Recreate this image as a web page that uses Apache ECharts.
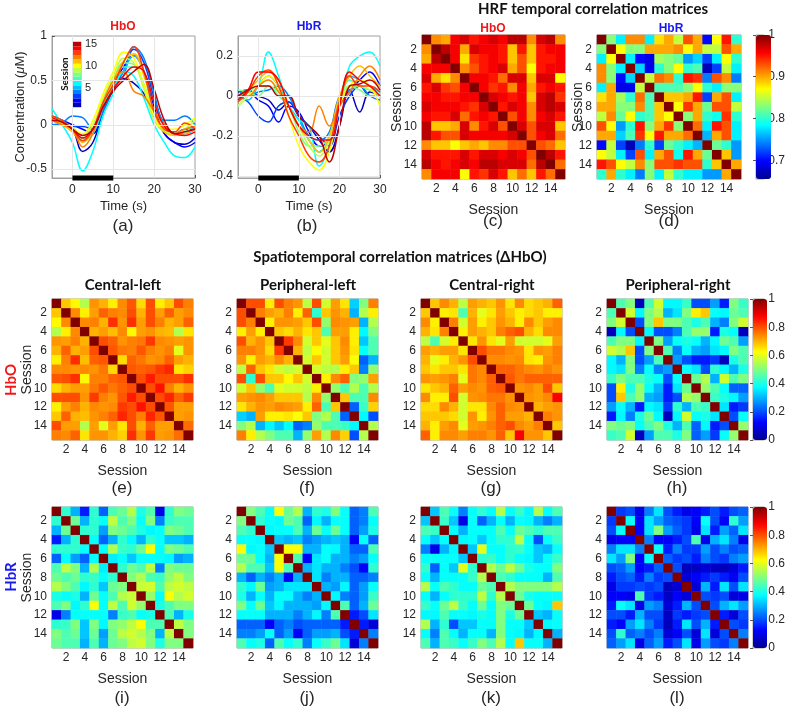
<!DOCTYPE html>
<html>
<head>
<meta charset="utf-8">
<script src="https://cdn.jsdelivr.net/npm/echarts@6/dist/echarts.min.js"></script>
<style>
  html, body { margin: 0; padding: 0; background: #fff; }
  #main { width: 788px; height: 707px; }
</style>
</head>
<body>
<div id="main"></div>
<script>
var sessions = ['1', '2', '3', '4', '5', '6', '7', '8', '9', '10', '11', '12', '13', '14', '15'];
var sessionColors = ['#0000BF', '#0000FF', '#0040FF', '#0080FF', '#00BFFF', '#00FFFF', '#40FFBF', '#80FF80',
    '#BFFF40', '#FFFF00', '#FFBF00', '#FF8000', '#FF4000', '#FF0000', '#BF0000'];
var jetColors = ['#00008F', '#0000FF', '#0080FF', '#00FFFF', '#80FF80', '#FFFF00', '#FF8000', '#FF0000', '#800000'];

// HRF time courses, one row per session (time in s)
var timeS = [-5, -2.5, 0, 2.5, 5, 7.5, 10, 12.5, 15, 17.5, 20, 22.5, 25, 27.5, 30];
var stimBlock = [0, 10];
var hboCurves = [
    [0.05, 0.00, -0.05, -0.30, -0.20, 0.15, 0.40, 0.52, 0.47, 0.35, 0.10, -0.10, -0.20, -0.22, -0.15],
    [0.10, 0.05, 0.00, -0.05, -0.10, 0.20, 0.45, 0.65, 0.78, 0.60, 0.20, -0.10, -0.20, -0.25, -0.20],
    [0.05, 0.02, -0.02, -0.02, -0.05, 0.15, 0.40, 0.60, 0.85, 0.70, 0.30, 0.00, -0.10, -0.05, -0.05],
    [0.00, 0.02, 0.10, 0.08, -0.05, 0.15, 0.40, 0.55, 0.88, 0.75, 0.35, 0.05, 0.05, 0.10, 0.00],
    [0.10, 0.05, -0.05, -0.15, -0.10, 0.20, 0.45, 0.60, 0.78, 0.60, 0.25, 0.00, -0.10, -0.10, -0.05],
    [0.18, 0.00, -0.20, -0.52, -0.30, 0.10, 0.35, 0.60, 0.55, 0.30, 0.00, -0.20, -0.35, -0.37, -0.25],
    [0.10, 0.00, -0.05, -0.18, -0.10, 0.20, 0.45, 0.65, 0.65, 0.45, 0.10, -0.05, -0.10, -0.08, 0.00],
    [0.05, 0.00, -0.05, -0.15, -0.05, 0.25, 0.50, 0.70, 0.68, 0.45, 0.10, -0.05, -0.10, -0.05, 0.05],
    [0.05, 0.02, -0.03, -0.12, 0.00, 0.30, 0.55, 0.75, 0.70, 0.40, 0.05, -0.08, -0.10, -0.05, 0.05],
    [0.08, 0.03, -0.05, -0.10, 0.05, 0.35, 0.60, 0.82, 0.75, 0.45, 0.10, -0.05, -0.05, 0.00, 0.08],
    [0.05, 0.00, -0.08, -0.20, -0.05, 0.25, 0.50, 0.72, 0.80, 0.55, 0.15, -0.08, -0.12, -0.10, -0.05],
    [0.05, 0.00, -0.05, -0.25, -0.10, 0.25, 0.50, 0.60, 0.38, 0.32, 0.15, 0.00, -0.10, -0.05, -0.02],
    [0.10, 0.05, -0.05, -0.18, -0.05, 0.25, 0.45, 0.70, 0.88, 0.60, 0.15, -0.05, -0.08, 0.02, -0.05],
    [0.08, 0.03, -0.05, -0.15, -0.05, 0.20, 0.40, 0.55, 0.65, 0.60, 0.25, -0.02, -0.10, -0.12, -0.08],
    [0.05, 0.03, -0.05, -0.12, -0.05, 0.20, 0.38, 0.50, 0.60, 0.68, 0.40, 0.05, -0.10, -0.08, -0.05]
];
var hbrCurves = [
    [0.02, 0.03, 0.00, -0.02, -0.07, -0.03, -0.10, -0.15, -0.22, -0.28, -0.15, 0.03, -0.08, 0.02, 0.00],
    [0.00, 0.02, -0.02, -0.05, -0.13, -0.05, -0.08, -0.18, -0.25, -0.22, -0.05, 0.02, 0.08, 0.12, 0.05],
    [0.00, -0.03, -0.10, -0.13, -0.05, -0.03, -0.10, -0.15, -0.20, -0.25, -0.10, 0.00, 0.05, 0.00, 0.00],
    [0.03, 0.00, 0.02, 0.03, 0.05, 0.00, -0.10, -0.20, -0.22, -0.18, 0.00, 0.03, 0.05, 0.00, -0.02],
    [0.00, -0.02, 0.05, 0.10, 0.05, -0.05, -0.12, -0.22, -0.28, -0.20, -0.02, 0.10, 0.08, 0.05, 0.02],
    [-0.05, 0.00, 0.05, 0.22, 0.10, -0.05, -0.12, -0.15, -0.35, -0.25, -0.05, 0.15, 0.20, 0.22, 0.15],
    [0.00, 0.02, 0.05, 0.05, 0.00, -0.05, -0.15, -0.22, -0.28, -0.20, -0.05, 0.08, 0.05, 0.03, 0.02],
    [0.03, 0.02, 0.00, 0.05, 0.02, -0.05, -0.18, -0.25, -0.25, -0.20, -0.05, 0.05, 0.03, 0.00, 0.00],
    [0.00, 0.00, 0.05, 0.08, 0.03, -0.05, -0.15, -0.25, -0.30, -0.22, -0.05, 0.05, 0.05, 0.03, 0.00],
    [-0.05, 0.00, 0.05, 0.10, 0.05, -0.10, -0.25, -0.33, -0.37, -0.28, -0.05, 0.05, 0.08, 0.05, -0.05],
    [0.00, 0.03, 0.08, 0.12, 0.08, -0.05, -0.15, -0.22, -0.28, -0.20, 0.00, 0.10, 0.15, 0.10, 0.05],
    [0.00, 0.00, 0.05, 0.08, 0.02, -0.05, -0.15, -0.18, -0.05, -0.15, -0.05, 0.02, 0.10, 0.15, 0.08],
    [-0.03, 0.02, 0.10, 0.13, 0.05, -0.10, -0.20, -0.30, -0.33, -0.25, -0.03, 0.10, 0.05, 0.05, 0.02],
    [-0.02, 0.03, 0.12, 0.12, 0.08, -0.05, -0.15, -0.20, -0.22, -0.22, -0.05, 0.12, 0.08, 0.05, 0.00],
    [0.00, 0.03, 0.05, 0.05, 0.00, 0.00, -0.10, -0.15, -0.20, -0.33, -0.15, 0.05, 0.06, 0.08, 0.03]
];

// correlation matrices: upper triangle, row i holds sessions i+1..15
var hrfHbO = [
    [0.91, 0.90, 0.96, 0.97, 0.95, 0.96, 0.97, 0.96, 0.98, 0.98, 0.91, 0.97, 0.98, 0.91],
    [0.98, 0.96, 0.90, 0.97, 0.96, 0.96, 0.95, 0.89, 0.95, 0.89, 0.95, 0.96, 0.96],
    [0.96, 0.88, 0.94, 0.95, 0.96, 0.95, 0.89, 0.93, 0.89, 0.95, 0.95, 0.96],
    [0.91, 0.93, 0.95, 0.96, 0.97, 0.90, 0.93, 0.87, 0.95, 0.96, 0.96],
    [0.96, 0.96, 0.95, 0.92, 0.97, 0.97, 0.89, 0.97, 0.97, 0.87],
    [0.96, 0.94, 0.95, 0.91, 0.96, 0.90, 0.95, 0.96, 0.95],
    [0.97, 0.96, 0.95, 0.96, 0.89, 0.97, 0.98, 0.94],
    [0.95, 0.97, 0.96, 0.91, 0.97, 0.98, 0.97],
    [0.93, 0.96, 0.91, 0.96, 0.97, 0.95],
    [0.97, 0.93, 0.97, 0.97, 0.89],
    [0.93, 0.96, 0.97, 0.92],
    [0.93, 0.92, 0.89],
    [0.98, 0.95],
    [0.92]
];
var hrfHbR = [
    [0.83, 0.78, 0.91, 0.91, 0.78, 0.88, 0.90, 0.85, 0.93, 0.90, 0.70, 0.87, 0.95, 0.80],
    [0.87, 0.83, 0.83, 0.90, 0.90, 0.90, 0.91, 0.87, 0.90, 0.85, 0.85, 0.93, 0.90],
    [0.78, 0.70, 0.69, 0.84, 0.83, 0.82, 0.75, 0.77, 0.72, 0.78, 0.87, 0.80],
    [0.77, 0.69, 0.80, 0.83, 0.87, 0.80, 0.81, 0.67, 0.72, 0.85, 0.78],
    [0.85, 0.92, 0.91, 0.80, 0.95, 0.94, 0.74, 0.93, 0.91, 0.74],
    [0.81, 0.81, 0.81, 0.83, 0.87, 0.80, 0.78, 0.83, 0.83],
    [0.89, 0.89, 0.90, 0.95, 0.72, 0.90, 0.93, 0.78],
    [0.87, 0.94, 0.90, 0.82, 0.93, 0.93, 0.85],
    [0.83, 0.90, 0.80, 0.79, 0.94, 0.80],
    [0.92, 0.78, 0.95, 0.93, 0.78],
    [0.76, 0.90, 0.93, 0.78],
    [0.82, 0.80, 0.75],
    [0.89, 0.75],
    [0.90]
];
var stHbOCentralLeft = [
    [0.68, 0.63, 0.55, 0.73, 0.70, 0.64, 0.74, 0.79, 0.66, 0.80, 0.64, 0.68, 0.80, 0.75],
    [0.74, 0.64, 0.72, 0.78, 0.75, 0.74, 0.80, 0.70, 0.80, 0.72, 0.78, 0.72, 0.74],
    [0.74, 0.75, 0.70, 0.83, 0.73, 0.83, 0.72, 0.80, 0.75, 0.70, 0.72, 0.78],
    [0.70, 0.72, 0.69, 0.74, 0.63, 0.72, 0.73, 0.70, 0.69, 0.55, 0.65],
    [0.80, 0.78, 0.73, 0.75, 0.76, 0.82, 0.74, 0.73, 0.72, 0.73],
    [0.79, 0.76, 0.75, 0.79, 0.75, 0.73, 0.75, 0.60, 0.73],
    [0.66, 0.78, 0.76, 0.73, 0.74, 0.78, 0.72, 0.70],
    [0.79, 0.78, 0.79, 0.82, 0.84, 0.65, 0.67],
    [0.80, 0.85, 0.80, 0.80, 0.80, 0.83],
    [0.80, 0.86, 0.75, 0.70, 0.73],
    [0.80, 0.84, 0.78, 0.82],
    [0.79, 0.72, 0.72],
    [0.72, 0.73],
    [0.77]
];
var stHbOPeripheralLeft = [
    [0.80, 0.80, 0.64, 0.80, 0.75, 0.73, 0.56, 0.80, 0.58, 0.72, 0.65, 0.33, 0.50, 0.75],
    [0.75, 0.72, 0.70, 0.75, 0.64, 0.78, 0.42, 0.68, 0.73, 0.70, 0.30, 0.55, 0.64],
    [0.64, 0.73, 0.73, 0.72, 0.68, 0.80, 0.52, 0.74, 0.73, 0.72, 0.30, 0.55, 0.72],
    [0.68, 0.66, 0.70, 0.65, 0.68, 0.45, 0.72, 0.72, 0.64, 0.37, 0.50, 0.58],
    [0.82, 0.74, 0.58, 0.68, 0.60, 0.68, 0.74, 0.64, 0.32, 0.45, 0.72],
    [0.70, 0.56, 0.63, 0.58, 0.68, 0.73, 0.65, 0.38, 0.45, 0.60],
    [0.58, 0.68, 0.58, 0.68, 0.72, 0.62, 0.22, 0.30, 0.63],
    [0.58, 0.56, 0.55, 0.64, 0.68, 0.25, 0.52, 0.70],
    [0.64, 0.74, 0.78, 0.50, 0.52, 0.72],
    [0.52, 0.45, 0.55, 0.45, 0.55],
    [0.68, 0.45, 0.45, 0.74],
    [0.22, 0.43, 0.67],
    [0.37, 0.20],
    [0.55]
];
var stHbOCentralRight = [
    [0.68, 0.74, 0.70, 0.56, 0.72, 0.70, 0.68, 0.73, 0.65, 0.74, 0.66, 0.68, 0.70, 0.78],
    [0.64, 0.65, 0.45, 0.70, 0.60, 0.65, 0.72, 0.68, 0.64, 0.66, 0.68, 0.64, 0.64],
    [0.75, 0.58, 0.72, 0.64, 0.68, 0.73, 0.70, 0.64, 0.74, 0.68, 0.72, 0.74],
    [0.64, 0.72, 0.70, 0.68, 0.75, 0.78, 0.80, 0.70, 0.66, 0.74, 0.74],
    [0.65, 0.73, 0.65, 0.60, 0.72, 0.58, 0.58, 0.58, 0.60, 0.72],
    [0.80, 0.76, 0.76, 0.74, 0.73, 0.65, 0.73, 0.72, 0.75],
    [0.74, 0.74, 0.73, 0.74, 0.65, 0.64, 0.73, 0.75],
    [0.78, 0.78, 0.76, 0.74, 0.73, 0.75, 0.73],
    [0.79, 0.76, 0.78, 0.78, 0.78, 0.78],
    [0.73, 0.74, 0.72, 0.80, 0.68],
    [0.73, 0.72, 0.74, 0.88],
    [0.70, 0.72, 0.73],
    [0.75, 0.73],
    [0.68]
];
var stHbOPeripheralRight = [
    [0.45, 0.50, 0.05, 0.45, 0.58, 0.37, 0.37, 0.43, 0.20, 0.20, 0.28, 0.15, 0.50, 0.43],
    [0.58, 0.37, 0.50, 0.55, 0.30, 0.35, 0.50, 0.64, 0.68, 0.38, 0.37, 0.48, 0.45],
    [0.20, 0.50, 0.68, 0.50, 0.50, 0.45, 0.40, 0.45, 0.30, 0.25, 0.50, 0.58],
    [0.37, 0.20, 0.20, 0.25, 0.45, 0.52, 0.52, 0.15, 0.40, 0.38, 0.05],
    [0.50, 0.28, 0.38, 0.40, 0.38, 0.30, 0.37, 0.48, 0.45, 0.28],
    [0.45, 0.25, 0.38, 0.30, 0.28, 0.35, 0.37, 0.50, 0.45],
    [0.28, 0.20, 0.15, 0.15, 0.18, 0.05, 0.40, 0.45],
    [0.38, 0.35, 0.20, 0.42, 0.37, 0.30, 0.40],
    [0.48, 0.55, 0.30, 0.58, 0.45, 0.50],
    [0.52, 0.45, 0.38, 0.22, 0.22],
    [0.43, 0.40, 0.37, 0.28],
    [0.35, 0.15, 0.18],
    [0.20, 0.38],
    [0.52]
];
var stHbRCentralLeft = [
    [0.42, 0.30, 0.15, 0.42, 0.22, 0.45, 0.48, 0.55, 0.40, 0.45, 0.10, 0.42, 0.50, 0.48],
    [0.48, 0.30, 0.42, 0.38, 0.56, 0.45, 0.50, 0.38, 0.50, 0.25, 0.43, 0.45, 0.45],
    [0.42, 0.42, 0.28, 0.50, 0.48, 0.45, 0.40, 0.37, 0.38, 0.50, 0.48, 0.45],
    [0.38, 0.22, 0.30, 0.42, 0.37, 0.30, 0.42, 0.38, 0.32, 0.32, 0.30],
    [0.38, 0.55, 0.43, 0.42, 0.48, 0.62, 0.38, 0.50, 0.48, 0.45],
    [0.36, 0.38, 0.32, 0.38, 0.38, 0.38, 0.37, 0.28, 0.30],
    [0.42, 0.48, 0.45, 0.56, 0.25, 0.50, 0.48, 0.48],
    [0.50, 0.55, 0.45, 0.43, 0.52, 0.56, 0.50],
    [0.57, 0.58, 0.45, 0.56, 0.58, 0.56],
    [0.52, 0.38, 0.62, 0.55, 0.58],
    [0.40, 0.45, 0.50, 0.50],
    [0.45, 0.30, 0.40],
    [0.56, 0.50],
    [0.50]
];
var stHbRPeripheralLeft = [
    [0.50, 0.45, 0.38, 0.62, 0.48, 0.55, 0.30, 0.42, 0.40, 0.50, 0.38, 0.22, 0.25, 0.45],
    [0.42, 0.38, 0.37, 0.48, 0.45, 0.22, 0.37, 0.30, 0.38, 0.38, 0.22, 0.25, 0.38],
    [0.37, 0.38, 0.38, 0.45, 0.30, 0.48, 0.38, 0.48, 0.38, 0.22, 0.28, 0.40],
    [0.32, 0.30, 0.32, 0.25, 0.28, 0.30, 0.32, 0.30, 0.12, 0.38, 0.22],
    [0.62, 0.62, 0.30, 0.30, 0.38, 0.37, 0.30, 0.22, 0.22, 0.45],
    [0.45, 0.12, 0.35, 0.38, 0.30, 0.30, 0.25, 0.28, 0.38],
    [0.30, 0.35, 0.30, 0.30, 0.25, 0.20, 0.12, 0.42],
    [0.35, 0.25, 0.30, 0.30, 0.22, 0.22, 0.25],
    [0.30, 0.28, 0.37, 0.22, 0.28, 0.38],
    [0.37, 0.25, 0.22, 0.28, 0.43],
    [0.45, 0.22, 0.30, 0.48],
    [0.15, 0.20, 0.35],
    [0.15, 0.08],
    [0.25]
];
var stHbRCentralRight = [
    [0.32, 0.45, 0.38, 0.25, 0.38, 0.42, 0.38, 0.55, 0.38, 0.43, 0.37, 0.55, 0.38, 0.45],
    [0.43, 0.32, 0.10, 0.38, 0.22, 0.30, 0.38, 0.30, 0.38, 0.37, 0.30, 0.25, 0.30],
    [0.38, 0.30, 0.38, 0.38, 0.38, 0.45, 0.38, 0.48, 0.45, 0.42, 0.45, 0.45],
    [0.37, 0.38, 0.32, 0.38, 0.42, 0.42, 0.56, 0.38, 0.20, 0.38, 0.43],
    [0.32, 0.60, 0.38, 0.38, 0.42, 0.43, 0.38, 0.32, 0.30, 0.38],
    [0.42, 0.43, 0.38, 0.42, 0.38, 0.37, 0.32, 0.38, 0.43],
    [0.55, 0.48, 0.56, 0.48, 0.40, 0.38, 0.38, 0.50],
    [0.45, 0.42, 0.38, 0.38, 0.38, 0.30, 0.45],
    [0.55, 0.50, 0.50, 0.50, 0.50, 0.55],
    [0.48, 0.40, 0.38, 0.38, 0.38],
    [0.48, 0.38, 0.37, 0.68],
    [0.32, 0.30, 0.38],
    [0.37, 0.38],
    [0.30]
];
var stHbRPeripheralRight = [
    [0.18, 0.20, 0.10, 0.25, 0.35, 0.20, 0.15, 0.10, 0.12, 0.15, 0.20, 0.15, 0.20, 0.22],
    [0.38, 0.12, 0.35, 0.28, 0.22, 0.20, 0.18, 0.12, 0.38, 0.20, 0.12, 0.42, 0.28],
    [0.12, 0.35, 0.50, 0.28, 0.22, 0.18, 0.10, 0.35, 0.15, 0.28, 0.22, 0.35],
    [0.25, 0.12, 0.12, 0.15, 0.20, 0.45, 0.10, 0.30, 0.35, 0.25, 0.10],
    [0.38, 0.15, 0.25, 0.18, 0.18, 0.28, 0.20, 0.25, 0.20, 0.22],
    [0.22, 0.18, 0.20, 0.15, 0.25, 0.20, 0.18, 0.25, 0.28],
    [0.20, 0.05, 0.06, 0.08, 0.06, 0.05, 0.08, 0.15],
    [0.08, 0.12, 0.15, 0.18, 0.15, 0.12, 0.20],
    [0.08, 0.30, 0.15, 0.35, 0.20, 0.35],
    [0.20, 0.18, 0.20, 0.08, 0.10],
    [0.20, 0.30, 0.35, 0.28],
    [0.15, 0.08, 0.20],
    [0.20, 0.18],
    [0.25]
];
var hrfRange = [0.655, 1];
var hrfTicks = [0.7, 0.8, 0.9, 1];
var stRange = [0, 1];
var stTicks = [0, 0.2, 0.4, 0.6, 0.8, 1];

var FONT = '"Liberation Sans", Arial, sans-serif';
var BFONT = 'Lato, "Open Sans", sans-serif';
var TXT = '#262626';
var BOX = '#a0a0a0';
var RED = '#F01818';
var BLUE = '#1818F0';

var grids = [], xAxes = [], yAxes = [], series = [], visualMaps = [], graphics = [];

function toCells(upper) {
    var cells = [];
    for (var i = 0; i < sessions.length; i++) {
        for (var j = 0; j < sessions.length; j++) {
            var v;
            if (i === j) v = 1;
            else if (j > i) v = upper[i][j - i - 1];
            else v = upper[j][i - j - 1];
            cells.push([j, i, v]);
        }
    }
    return cells;
}

function text(x, y, str, size, opts) {
    opts = opts || {};
    var font = (opts.bold ? 'bold ' : '') + size + 'px ' + (opts.family || FONT);
    graphics.push({
        type: 'text', x: x, y: y, rotation: opts.rot || 0, silent: true,
        style: {
            text: str, fill: opts.color || TXT, font: font,
            align: 'center', verticalAlign: 'middle',
            textAlign: 'center', textVerticalAlign: 'middle'
        }
    });
}

function addGrid(box, show) {
    grids.push({
        left: box[0], top: box[1], width: box[2], height: box[3],
        show: show, borderColor: BOX, borderWidth: 1, backgroundColor: 'transparent'
    });
    return grids.length - 1;
}

var evenIdx = function (i) { return i % 2 === 1; };

function addHeatmap(box, upper, yName, yNameGap) {
    var g = addGrid(box, true);
    var xi = xAxes.length, yi = yAxes.length;
    xAxes.push({
        type: 'category', gridIndex: g, data: sessions, position: 'bottom',
        axisLine: { show: false },
        axisTick: { show: true, inside: true, length: 3, alignWithLabel: true, interval: evenIdx, lineStyle: { color: '#666' } },
        axisLabel: { interval: evenIdx, color: TXT, fontSize: 12, fontFamily: FONT, margin: 4 },
        splitLine: { show: false },
        name: 'Session', nameLocation: 'middle', nameGap: 24, nameMoveOverlap: false,
        nameTextStyle: { color: TXT, fontSize: 14, fontFamily: FONT }
    });
    yAxes.push({
        type: 'category', gridIndex: g, data: sessions, inverse: true,
        axisLine: { show: false },
        axisTick: { show: true, inside: true, length: 3, alignWithLabel: true, interval: evenIdx, lineStyle: { color: '#666' } },
        axisLabel: { interval: evenIdx, color: TXT, fontSize: 12, fontFamily: FONT, margin: 5 },
        splitLine: { show: false },
        name: yName ? 'Session' : '', nameLocation: 'middle', nameGap: yNameGap, nameMoveOverlap: false,
        nameTextStyle: { color: TXT, fontSize: 14, fontFamily: FONT }
    });
    series.push({
        type: 'heatmap', xAxisIndex: xi, yAxisIndex: yi, data: toCells(upper),
        itemStyle: { borderWidth: 0 }, emphasis: { disabled: true }, progressive: 0, silent: true
    });
    return series.length - 1;
}

function addColorbar(box, range, ticks, seriesIdx) {
    visualMaps.push({
        type: 'continuous', min: range[0], max: range[1], seriesIndex: seriesIdx,
        inRange: { color: jetColors }, left: box[0], top: box[1],
        itemWidth: box[2], itemHeight: box[3], calculable: false, hoverLink: false,
        padding: 0, text: null, show: true, realtime: false
    });
    var g = addGrid(box, true);
    xAxes.push({ type: 'value', gridIndex: g, show: false, min: 0, max: 1 });
    yAxes.push({
        type: 'value', gridIndex: g, min: range[0], max: range[1], position: 'right',
        axisLine: { show: false }, splitLine: { show: false },
        axisTick: { show: true, inside: true, length: 3, customValues: ticks, lineStyle: { color: '#555' } },
        axisLabel: { customValues: ticks, color: TXT, fontSize: 12, fontFamily: FONT, margin: 4 }
    });
}

function addLinePanel(box, curves, xRange, yRange, xTicks, yTicks, yName) {
    var g = addGrid(box, true);
    var xi = xAxes.length, yi = yAxes.length;
    xAxes.push({
        type: 'value', gridIndex: g, min: xRange[0], max: xRange[1],
        axisLine: { show: true, onZero: false, lineStyle: { color: BOX } },
        axisTick: { show: true, inside: true, length: 3, customValues: xTicks, lineStyle: { color: '#555' } },
        axisLabel: { customValues: xTicks, color: TXT, fontSize: 12, fontFamily: FONT, margin: 6 },
        splitLine: { show: false },
        name: 'Time (s)', nameLocation: 'middle', nameGap: 22, nameMoveOverlap: false,
        nameTextStyle: { color: TXT, fontSize: 13, fontFamily: FONT }
    });
    yAxes.push({
        type: 'value', gridIndex: g, min: yRange[0], max: yRange[1],
        axisLine: { show: true, onZero: false, lineStyle: { color: BOX } },
        axisTick: { show: true, inside: true, length: 3, customValues: yTicks, lineStyle: { color: '#555' } },
        axisLabel: { customValues: yTicks, color: TXT, fontSize: 12, fontFamily: FONT, margin: 5 },
        splitLine: { show: false },
        name: yName || '', nameLocation: 'middle', nameGap: 25, nameMoveOverlap: false,
        nameTextStyle: {
            color: TXT, fontSize: 13, fontFamily: FONT,
            rich: { i: { fontStyle: 'italic', fontSize: 13, fontFamily: FONT, color: TXT } }
        }
    });
    // light grid at tick positions
    var gridMarks = [];
    xTicks.forEach(function (t) { if (t > xRange[0] && t < xRange[1]) gridMarks.push({ xAxis: t }); });
    yTicks.forEach(function (t) { if (t > yRange[0] && t < yRange[1]) gridMarks.push({ yAxis: t }); });
    series.push({
        type: 'line', xAxisIndex: xi, yAxisIndex: yi, data: [], z: 1, silent: true,
        markLine: {
            silent: true, symbol: 'none', label: { show: false }, animation: false,
            lineStyle: { color: '#e6e6e6', width: 1, type: 'solid' }, data: gridMarks
        }
    });
    curves.forEach(function (c, k) {
        series.push({
            type: 'line', xAxisIndex: xi, yAxisIndex: yi, name: sessions[k],
            data: timeS.map(function (t, n) { return [t, c[n]]; }),
            smooth: 0.4, symbol: 'none', silent: true, z: 2,
            lineStyle: { color: sessionColors[k], width: 1.5 }
        });
    });
    series.push({
        type: 'line', xAxisIndex: xi, yAxisIndex: yi, silent: true, clip: false, z: 5,
        data: stimBlock.map(function (t) { return [t, yRange[0]]; }),
        symbol: 'none', lineStyle: { color: '#000', width: 5, cap: 'butt' }
    });
}

// (a) and (b) time courses
addLinePanel([52, 36, 143, 142], hboCurves, [-5, 30], [-0.6, 1], [0, 10, 20, 30], [-0.5, 0, 0.5, 1],
    'Concentration ({i|μ}M)');
addLinePanel([238, 36, 142, 142], hbrCurves, [-5, 30], [-0.41, 0.3], [0, 10, 20, 30], [-0.4, -0.2, 0, 0.2]);

// session colour key inside (a)
(function () {
    var g = addGrid([73, 42, 8, 65], true);
    var xi = xAxes.length, yi = yAxes.length;
    xAxes.push({ type: 'value', gridIndex: g, show: false, min: 0, max: 1 });
    yAxes.push({
        type: 'category', gridIndex: g, data: sessions, position: 'right',
        axisLine: { show: false }, axisTick: { show: false }, splitLine: { show: false },
        axisLabel: {
            interval: function (i) { return (i + 1) % 5 === 0; },
            color: TXT, fontSize: 11, fontFamily: FONT, margin: 4
        }
    });
    series.push({
        type: 'bar', xAxisIndex: xi, yAxisIndex: yi, silent: true, barWidth: '100%', barCategoryGap: '0%',
        data: sessions.map(function (s, k) { return { value: 1, itemStyle: { color: sessionColors[k] } }; })
    });
})();

// (c), (d) HRF correlation
var sc = addHeatmap([422, 35, 143, 144], hrfHbO, true, 18);
var sd = addHeatmap([597, 35, 144, 144], hrfHbR, true, 12);
addColorbar([756, 35, 15, 144], hrfRange, hrfTicks, [sc, sd]);

// spatiotemporal rows
var lefts = [52, 237, 421, 607];
var hboMats = [stHbOCentralLeft, stHbOPeripheralLeft, stHbOCentralRight, stHbOPeripheralRight];
var hbrMats = [stHbRCentralLeft, stHbRPeripheralLeft, stHbRCentralRight, stHbRPeripheralRight];
var midIdx = hboMats.map(function (m, k) { return addHeatmap([lefts[k], 299, 141, 141], m, k === 0, 18); });
addColorbar([753, 299, 14, 141], stRange, stTicks, midIdx);
var botIdx = hbrMats.map(function (m, k) { return addHeatmap([lefts[k], 507, 141, 141], m, k === 0, 18); });
addColorbar([753, 507, 14, 141], stRange, stTicks, botIdx);

// titles and panel letters
text(123, 27, 'HbO', 12, { bold: true, color: RED });
text(309, 27, 'HbR', 12, { bold: true, color: BLUE });
text(493, 29, 'HbO', 12, { bold: true, color: RED });
text(671, 29, 'HbR', 12, { bold: true, color: BLUE });
text(593, 9, 'HRF temporal correlation matrices', 15, { bold: true, family: BFONT, color: '#111' });
text(400, 257, 'Spatiotemporal correlation matrices (ΔHbO)', 15, { bold: true, family: BFONT, color: '#111' });
text(123, 285, 'Central-left', 15, { bold: true, family: BFONT, color: '#111' });
text(308, 285, 'Peripheral-left', 15, { bold: true, family: BFONT, color: '#111' });
text(492, 285, 'Central-right', 15, { bold: true, family: BFONT, color: '#111' });
text(678, 285, 'Peripheral-right', 15, { bold: true, family: BFONT, color: '#111' });
text(11, 380, 'HbO', 15, { bold: true, family: BFONT, color: RED, rot: Math.PI / 2 });
text(11, 577, 'HbR', 15, { bold: true, family: BFONT, color: BLUE, rot: Math.PI / 2 });
text(65, 74, 'Session', 10, { bold: true, family: BFONT, color: '#111', rot: Math.PI / 2 });
var letters = [['(a)', 123, 226], ['(b)', 307, 226], ['(c)', 493, 221], ['(d)', 669, 221],
    ['(e)', 122, 488], ['(f)', 307, 488], ['(g)', 491, 488], ['(h)', 677, 488],
    ['(i)', 122, 698], ['(j)', 307, 698], ['(k)', 491, 698], ['(l)', 677, 698]];
letters.forEach(function (l) { text(l[1], l[2], l[0], 17); });

var chart = echarts.init(document.getElementById('main'));
chart.setOption({
    backgroundColor: '#ffffff',
    animation: false,
    grid: grids,
    xAxis: xAxes,
    yAxis: yAxes,
    visualMap: visualMaps,
    series: series,
    graphic: { elements: graphics }
});
</script>
</body>
</html>
